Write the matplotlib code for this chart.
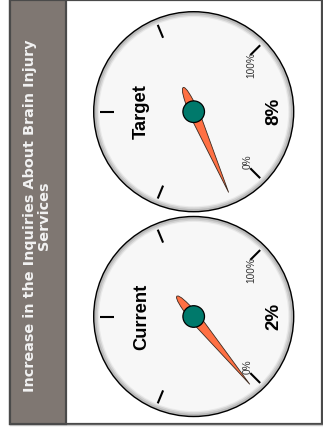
import numpy as np
import matplotlib
matplotlib.use("Agg")
import matplotlib.pyplot as plt
from matplotlib.patches import Circle, Polygon, Rectangle

# Data
title_text = "Increase in the Inquiries About Brain Injury\nServices"
gauge_labels = ["Target", "Current"]
gauge_values = [8, 2]          # percent
scale_min, scale_max = 0, 100
tick_values = [0, 25, 50, 75, 100]
end_labels = ["0%", "100%"]

W, H = 323, 429
fig = plt.figure(figsize=(W / 100, H / 100), dpi=100)
ax = fig.add_axes([0, 0, 1, 1])
ax.set_xlim(0, W)
ax.set_ylim(0, H)
ax.set_aspect("equal")
ax.axis("off")

# Whole layout is turned a quarter turn counter-clockwise
ROT = 90.0
START = 225.0 + ROT   # angle of scale minimum
SWEEP = 270.0         # clockwise sweep


def val_to_angle(v):
    frac = (v - scale_min) / (scale_max - scale_min)
    return np.deg2rad(START - SWEEP * frac)


def polar(cx, cy, r, a):
    return cx + r * np.cos(a), cy + r * np.sin(a)


# Frame and title strip
ax.add_patch(Rectangle((9.5, 5), 312.5, 424.5, facecolor="white",
                       edgecolor="#4a4a4a", lw=1.6, zorder=1))
ax.add_patch(Rectangle((9.5, 5), 56, 424.5, facecolor="#7f7772",
                       edgecolor="#4a4a4a", lw=1.6, zorder=2))
ax.plot([9.5, 322], [3.6, 3.6], color="#c8c8c8", lw=1, zorder=1)
ax.text(37, 213, title_text, rotation=90, ha="center", va="center",
        multialignment="center", color="#f2f2f2", fontsize=10.4,
        fontweight="bold", family="DejaVu Sans", linespacing=0.95,
        zorder=3)

R = 100.0
centers = [(193.7, 317.3), (193.7, 112.5)]

for (cx, cy), label, value in zip(centers, gauge_labels, gauge_values):
    # bezel and face
    ax.add_patch(Circle((cx, cy), R, facecolor="#b9b9b9", edgecolor="black",
                        lw=1.0, zorder=3))
    ax.add_patch(Circle((cx, cy), R - 2.6, facecolor="#d2d2d2",
                        edgecolor="none", zorder=3))
    ax.add_patch(Circle((cx, cy), R - 4.2, facecolor="#e9e9e9",
                        edgecolor="none", zorder=3))
    ax.add_patch(Circle((cx, cy), R - 5.4, facecolor="#f7f7f7",
                        edgecolor="none", zorder=3))

    # major ticks
    for tv in tick_values:
        a = val_to_angle(tv)
        x0, y0 = polar(cx, cy, 80, a)
        x1, y1 = polar(cx, cy, 94, a)
        ax.plot([x0, x1], [y0, y1], color="black", lw=1.5,
                solid_capstyle="butt", zorder=4)

    # end labels
    for tv, txt, da in zip([scale_min, scale_max], end_labels, [2.0, -6.0]):
        a = val_to_angle(tv) + np.deg2rad(da)
        x, y = polar(cx, cy, 74, a)
        ax.text(x, y, txt, rotation=ROT, ha="center", va="center",
                fontsize=7.2, color="#333333", family="Liberation Sans",
                zorder=5)

    # caption and value
    ax.text(cx - 52, cy, label, rotation=ROT, ha="center", va="center",
            fontsize=13.2, fontweight="bold", family="Liberation Sans",
            color="black", zorder=5)
    ax.text(cx + 80, cy, f"{value}%", rotation=ROT, ha="center",
            va="center", fontsize=13.5, fontweight="bold",
            family="Liberation Sans", color="black", zorder=5)

    # needle
    a = val_to_angle(value)
    shape = np.array([[88, 0], [0, 5.2], [-16, 3.6], [-22, 2.6],
                      [-25.5, 1.3], [-26.5, 0], [-25.5, -1.3],
                      [-22, -2.6], [-16, -3.6], [0, -5.2]])
    c, s = np.cos(a), np.sin(a)
    pts = np.column_stack([cx + shape[:, 0] * c - shape[:, 1] * s,
                           cy + shape[:, 0] * s + shape[:, 1] * c])
    ax.add_patch(Polygon(pts, closed=True, facecolor="#ff7043",
                         edgecolor="#3a2a20", lw=0.6, zorder=6))
    ax.add_patch(Circle((cx, cy), 10.8, facecolor="#00796b",
                        edgecolor="black", lw=0.9, zorder=7))

fig.savefig("out.png", dpi=100)
